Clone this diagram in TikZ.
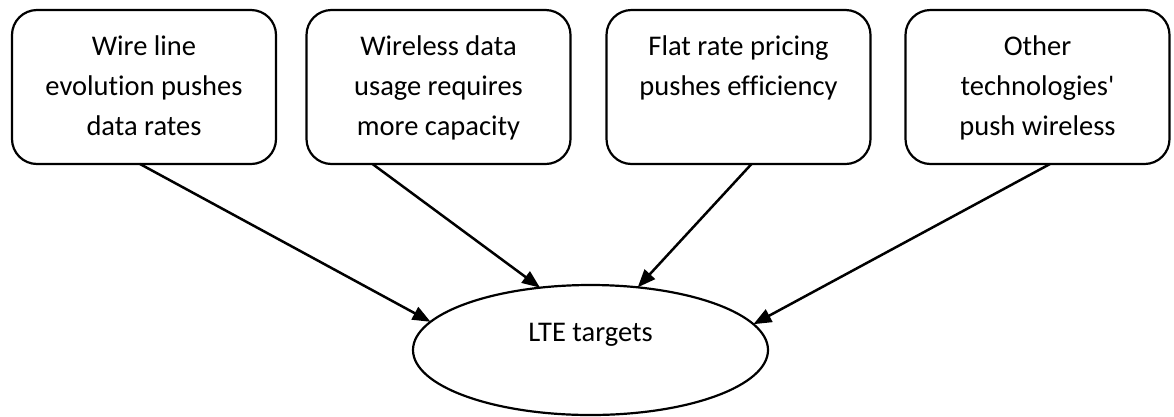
\documentclass[tikz,border=0pt]{standalone}
\usepackage{fontspec}
\setmainfont{Carlito}[Ligatures={NoCommon}]
\usetikzlibrary{arrows.meta,shapes.geometric}
\newcommand\drivertext[1]{\parbox[c][154pt][t]{264pt}{\centering\vspace{17pt}\strut#1}}
\begin{document}
\begin{tikzpicture}[x=1pt,y=-1pt,
  font=\fontsize{28.5pt}{40pt}\selectfont,
  driver/.style={draw, line width=2.2pt, rounded corners=25pt,
    minimum width=264pt, minimum height=154pt, inner sep=0pt, outer sep=0pt},
  goal/.style={draw, ellipse, line width=2.2pt, minimum width=355pt,
    minimum height=130pt, inner sep=0pt, outer sep=0pt,
    text height=20pt, text depth=38pt},
  link/.style={line width=2.5pt, -{Triangle[length=18pt,width=14pt]}}]
\useasboundingbox (0,0) rectangle (1174,416);

% four driving forces
\node[driver] (b1) at (144,87)   {\drivertext{Wire line\\evolution pushes\\data rates}};
\node[driver] (b2) at (438.5,87) {\drivertext{Wireless data\\usage requires\\more capacity}};
\node[driver] (b3) at (738.5,87) {\drivertext{Flat rate pricing\\pushes efficiency}};
\node[driver] (b4) at (1037.5,87){\drivertext{Other\\technologies\textquotesingle\\push wireless}};

% common goal
\node[goal] (e) at (590.5,350) {LTE targets};

% connectors
\draw[link] ([xshift=-4pt]b1.south)   -- (e.170);
\draw[link] ([xshift=-66pt]b2.south)  -- (e.129.5);
\draw[link] ([xshift=13pt]b3.south)   -- (e.53.8);
\draw[link] ([xshift=12.5pt]b4.south) -- (e.9.8);
\end{tikzpicture}
\end{document}
